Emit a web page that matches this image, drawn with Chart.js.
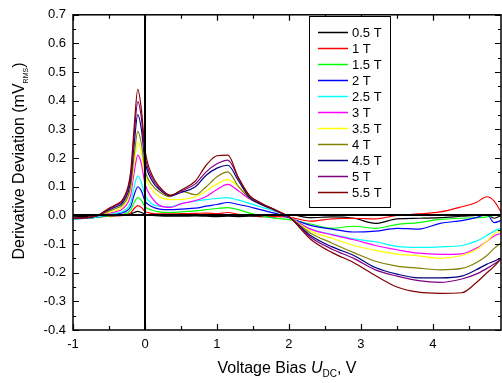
<!DOCTYPE html>
<html>
<head>
<meta charset="utf-8">
<script src="https://cdn.jsdelivr.net/npm/chart.js@4.4.0/dist/chart.umd.min.js"></script>
<style>
  html, body { margin: 0; padding: 0; background: #fff; }
  canvas { display: block; }
</style>
</head>
<body>
<canvas id="derivChart" width="502" height="383"></canvas>
<script>
// voltage bias U_DC, V
const bias = [-1, -0.8, -0.65, -0.5, -0.4, -0.3, -0.2, -0.15, -0.1, -0.05, 0, 0.1, 0.2, 0.35, 0.5, 0.7, 0.85, 1.0,
  1.15, 1.3, 1.45, 1.6, 1.8, 2.0, 2.3, 2.6, 2.9, 3.2, 3.5, 3.8, 4.1, 4.4, 4.6, 4.75, 4.85, 4.95];

const fieldLabels = ['0.5 T', '1 T', '1.5 T', '2 T', '2.5 T', '3 T', '3.5 T', '4 T', '4.5 T', '5 T', '5.5 T'];
const lineColors = ['#000000', '#ff0000', '#00ff00', '#0000ff', '#00ffff', '#ff00ff', '#ffff00',
  '#808000', '#000080', '#800080', '#800000'];

// derivative deviation, mV_RMS
const dev05 = [-0.005, -0.004, -0.003, -0.002, 0.0, 0.002, 0.005, 0.01, 0.014, 0.01, 0.004, 0.0, -0.002, -0.003, -0.003, -0.002, -0.003, -0.004,
  -0.003, -0.004, -0.003, -0.004, -0.005, 0.003, -0.008, -0.005, -0.01, -0.028, -0.012, -0.01, -0.008, -0.003, 0.0, 0.003, -0.01, 0.0];
const dev1 = [-0.01, -0.008, -0.006, -0.003, -0.002, 0.0, 0.008, 0.024, 0.034, 0.028, 0.014, 0.007, 0.005, 0.005, 0.006, 0.007, 0.008, 0.006,
  0.01, 0.004, 0.0, -0.002, -0.004, -0.006, -0.02, -0.012, -0.01, -0.012, 0.0, 0.005, 0.012, 0.03, 0.045, 0.065, 0.05, 0.01];
const dev15 = [-0.012, -0.01, -0.006, -0.002, 0.0, 0.004, 0.018, 0.045, 0.062, 0.052, 0.03, 0.018, 0.012, 0.01, 0.012, 0.016, 0.02, 0.024,
  0.027, 0.02, 0.008, 0.0, -0.01, -0.015, -0.03, -0.045, -0.038, -0.045, -0.032, -0.025, -0.014, -0.01, -0.008, -0.005, 0.0, 0.003];
const dev2 = [-0.012, -0.01, -0.005, 0.002, 0.005, 0.01, 0.03, 0.072, 0.1, 0.085, 0.05, 0.03, 0.022, 0.02, 0.022, 0.025, 0.032, 0.038,
  0.045, 0.038, 0.03, 0.02, 0.008, -0.008, -0.035, -0.048, -0.058, -0.055, -0.045, -0.048, -0.028, -0.018, -0.008, 0.003, -0.025, -0.018];
const dev25 = [-0.012, -0.01, -0.005, 0.003, 0.008, 0.015, 0.045, 0.1, 0.138, 0.115, 0.07, 0.04, 0.032, 0.03, 0.041, 0.05, 0.055, 0.059,
  0.062, 0.053, 0.042, 0.03, 0.015, -0.005, -0.048, -0.066, -0.082, -0.092, -0.108, -0.112, -0.11, -0.105, -0.09, -0.07, -0.055, -0.045];
const dev3 = [-0.01, -0.008, 0.0, 0.008, 0.013, 0.025, 0.07, 0.15, 0.21, 0.18, 0.11, 0.06, 0.035, 0.028, 0.04, 0.052, 0.066, 0.09,
  0.108, 0.085, 0.058, 0.04, 0.018, -0.005, -0.048, -0.068, -0.085, -0.105, -0.12, -0.132, -0.136, -0.134, -0.115, -0.09, -0.072, -0.062];
const dev35 = [-0.01, -0.008, 0.0, 0.01, 0.018, 0.032, 0.09, 0.18, 0.255, 0.22, 0.14, 0.09, 0.065, 0.055, 0.055, 0.065, 0.085, 0.11,
  0.125, 0.1, 0.065, 0.04, 0.018, -0.006, -0.055, -0.08, -0.105, -0.122, -0.135, -0.141, -0.15, -0.14, -0.12, -0.09, -0.065, -0.052];
const dev4 = [-0.01, -0.008, 0.0, 0.015, 0.025, 0.04, 0.1, 0.21, 0.293, 0.25, 0.16, 0.105, 0.082, 0.065, 0.085, 0.072, 0.1, 0.135,
  0.152, 0.1, 0.06, 0.04, 0.018, -0.006, -0.062, -0.097, -0.13, -0.16, -0.177, -0.184, -0.19, -0.185, -0.165, -0.14, -0.115, -0.095];
const dev45 = [-0.01, -0.008, 0.0, 0.02, 0.03, 0.048, 0.12, 0.25, 0.352, 0.3, 0.19, 0.12, 0.09, 0.068, 0.08, 0.1, 0.14, 0.165,
  0.175, 0.12, 0.063, 0.04, 0.018, -0.006, -0.07, -0.11, -0.14, -0.182, -0.205, -0.218, -0.218, -0.212, -0.19, -0.17, -0.16, -0.148];
const dev5 = [-0.01, -0.008, 0.0, 0.022, 0.035, 0.055, 0.135, 0.28, 0.397, 0.34, 0.21, 0.13, 0.095, 0.07, 0.085, 0.11, 0.152, 0.18,
  0.193, 0.13, 0.068, 0.043, 0.02, -0.006, -0.076, -0.118, -0.15, -0.19, -0.212, -0.228, -0.234, -0.222, -0.205, -0.185, -0.17, -0.152];
const dev55 = [-0.01, -0.008, 0.0, 0.025, 0.038, 0.06, 0.15, 0.31, 0.44, 0.37, 0.23, 0.14, 0.1, 0.07, 0.088, 0.12, 0.175, 0.208,
  0.21, 0.13, 0.07, 0.045, 0.02, -0.005, -0.083, -0.13, -0.165, -0.21, -0.25, -0.268, -0.272, -0.27, -0.235, -0.2, -0.178, -0.15];

const allSeries = [dev05, dev1, dev15, dev2, dev25, dev3, dev35, dev4, dev45, dev5, dev55];

const FONT = 'Arial, "Liberation Sans", sans-serif';
Chart.defaults.font.family = FONT;
Chart.defaults.font.size = 13;
Chart.defaults.color = '#000';

const datasets = allSeries.map((vals, i) => ({
  label: fieldLabels[i],
  data: vals.map((v, j) => ({ x: bias[j], y: v })),
  borderColor: lineColors[i],
  backgroundColor: lineColors[i],
  borderWidth: 1.2,
  pointRadius: 0,
  fill: false,
  cubicInterpolationMode: 'monotone',
  order: allSeries.length - i
}));

// frame, inward ticks, zero lines, legend and axis titles
const decor = {
  id: 'decor',
  afterDatasetsDraw(chart) {
    const { ctx, chartArea: a, scales: { x, y } } = chart;
    ctx.save();
    ctx.strokeStyle = '#000';
    // zero lines
    ctx.lineWidth = 2;
    const x0 = Math.round(x.getPixelForValue(0));
    const y0 = Math.round(y.getPixelForValue(0));
    ctx.beginPath();
    ctx.moveTo(x0, a.top); ctx.lineTo(x0, a.bottom);
    ctx.moveTo(a.left, y0); ctx.lineTo(a.right, y0);
    ctx.stroke();

    // frame
    ctx.lineWidth = 1.5;
    ctx.strokeRect(a.left, a.top, a.right - a.left, a.bottom - a.top);

    // ticks
    ctx.lineWidth = 1.2;
    ctx.beginPath();
    for (let k = -2; k <= 9; k++) {
      const v = k / 2;
      const px = Math.round(x.getPixelForValue(v)) + 0.5;
      if (px < a.left || px > a.right) continue;
      const len = k % 2 === 0 ? 6 : 4;
      ctx.moveTo(px, a.bottom); ctx.lineTo(px, a.bottom - len);
      ctx.moveTo(px, a.top); ctx.lineTo(px, a.top + len);
    }
    for (let k = -8; k <= 14; k++) {
      const v = k / 20;
      const py = Math.round(y.getPixelForValue(v)) + 0.5;
      const len = k % 2 === 0 ? 6 : 3;
      ctx.moveTo(a.left, py); ctx.lineTo(a.left + len, py);
      ctx.moveTo(a.right, py); ctx.lineTo(a.right - len, py);
    }
    ctx.stroke();

    // legend
    const lx = 309.5, ly = 16.5, lw = 81, lh = 191;
    ctx.fillStyle = '#fff';
    ctx.fillRect(lx, ly, lw, lh);
    ctx.lineWidth = 1;
    ctx.strokeRect(lx, ly, lw, lh);
    ctx.font = '13px ' + FONT;
    ctx.textBaseline = 'middle';
    ctx.textAlign = 'left';
    chart.data.datasets.forEach((ds, i) => {
      const ey = 32.5 + i * 16;
      ctx.strokeStyle = ds.borderColor;
      ctx.lineWidth = 1.5;
      ctx.beginPath();
      ctx.moveTo(318, ey); ctx.lineTo(348, ey);
      ctx.stroke();
      ctx.fillStyle = '#000';
      ctx.fillText(ds.label, 352, ey + 1);
    });
    ctx.restore();
  },
  afterDraw(chart) {
    const { ctx, chartArea: a } = chart;
    ctx.save();
    ctx.fillStyle = '#000';
    ctx.textBaseline = 'alphabetic';
    ctx.textAlign = 'left';
    const big = '16px ' + FONT, small = '7px ' + FONT, itBig = 'italic 16px ' + FONT, sub = '10px ' + FONT;

    // x title: Voltage Bias U_DC, V
    const xparts = [['Voltage Bias ', big, 0], ['U', itBig, 0], ['DC', sub, 4], [', V', big, 0]];
    let total = 0;
    xparts.forEach(p => { ctx.font = p[1]; total += ctx.measureText(p[0]).width; });
    let cx = (a.left + a.right) / 2 - total / 2;
    xparts.forEach(p => {
      ctx.font = p[1];
      ctx.fillText(p[0], cx, 373 + p[2]);
      cx += ctx.measureText(p[0]).width;
    });

    // y title: Derivative Deviation (mV_RMS)
    const yparts = [['Derivative Deviation (mV', big, 0], ['RMS', small, 4], [')', big, 0]];
    total = 0;
    yparts.forEach(p => { ctx.font = p[1]; total += ctx.measureText(p[0]).width; });
    ctx.translate(24, 161);
    ctx.rotate(-Math.PI / 2);
    let cy = -total / 2;
    yparts.forEach(p => {
      ctx.font = p[1];
      ctx.fillText(p[0], cy, p[2]);
      cy += ctx.measureText(p[0]).width;
    });
    ctx.restore();
  }
};

new Chart(document.getElementById('derivChart'), {
  type: 'line',
  data: { datasets: datasets },
  options: {
    responsive: false,
    animation: false,
    layout: { padding: { top: 11, right: 1, left: 0, bottom: 0 } },
    plugins: { legend: { display: false }, tooltip: { enabled: false } },
    scales: {
      x: {
        type: 'linear',
        min: -1,
        max: 4.945,
        grid: { display: false, drawTicks: false },
        border: { display: false },
        ticks: { stepSize: 1, padding: 7, maxRotation: 0, font: { size: 13 } },
        afterBuildTicks: s => { s.ticks = s.ticks.filter(t => Math.abs(t.value - Math.round(t.value)) < 1e-6); },
        afterFit: s => { s.height = 53; }
      },
      y: {
        min: -0.4,
        max: 0.7,
        grid: { display: false, drawTicks: false },
        border: { display: false },
        ticks: {
          stepSize: 0.1,
          padding: 7,
          font: { size: 13 },
          callback: v => (Math.abs(v) < 1e-9 ? 0 : v).toFixed(1)
        },
        afterFit: s => { s.width = 73; }
      }
    }
  },
  plugins: [decor]
});
</script>
</body>
</html>
